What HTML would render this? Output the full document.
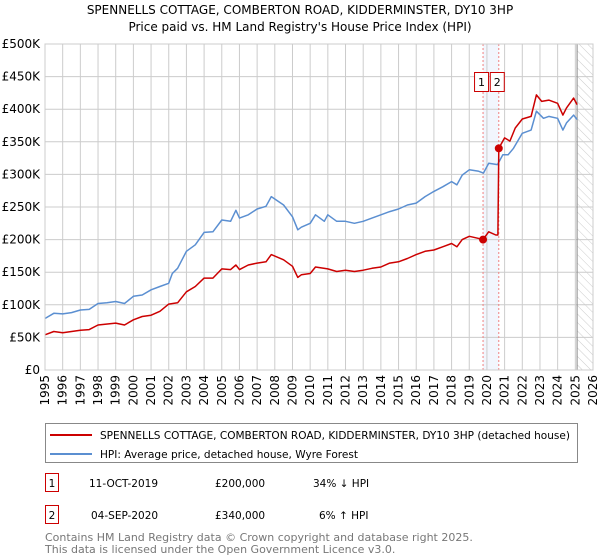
<!DOCTYPE html>
<html><head><meta charset="utf-8"><style>
body{margin:0;background:#fff;font-family:"Liberation Sans","DejaVu Sans",sans-serif;}
#wrap{position:relative;width:600px;height:560px;overflow:hidden}
</style></head><body>
<div id="wrap">
<svg id="chart" width="600" height="560" font-family="'DejaVu Sans','Liberation Sans',sans-serif">
<defs><pattern id="hatch" width="6" height="6" patternUnits="userSpaceOnUse" patternTransform="rotate(-45)"><line x1="0" y1="0" x2="0" y2="6" stroke="#ccc" stroke-width="1"/></pattern></defs>
<text x="300" y="14" text-anchor="middle" font-size="12">SPENNELLS COTTAGE, COMBERTON ROAD, KIDDERMINSTER, DY10 3HP</text>
<text x="300" y="31" text-anchor="middle" font-size="12">Price paid vs. HM Land Registry's House Price Index (HPI)</text>
<g id="grid"></g><g id="marks"></g><g id="axes"></g>
</svg>
<svg style="position:absolute;left:0;top:0" width="600" height="560" font-family="'DejaVu Sans','Liberation Sans',sans-serif" font-size="10.5">
<g>
<rect x="45.5" y="423.5" width="532" height="39" fill="#fff" stroke="#888"/>
<line x1="50" y1="435" x2="92" y2="435" stroke="#cc0000" stroke-width="2"/>
<text x="100" y="439" textLength="470" lengthAdjust="spacingAndGlyphs">SPENNELLS COTTAGE, COMBERTON ROAD, KIDDERMINSTER, DY10 3HP (detached house)</text>
<line x1="50" y1="454" x2="92" y2="454" stroke="#5b8fd1" stroke-width="2"/>
<text x="100" y="458" textLength="258" lengthAdjust="spacingAndGlyphs">HPI: Average price, detached house, Wyre Forest</text>
</g>
<g font-size="10.5">
<rect x="45.5" y="473.5" width="13" height="18" fill="#fff" stroke="#cc0000"/><text x="52" y="487" text-anchor="middle">1</text>
<text x="89" y="487">11-OCT-2019</text><text x="215" y="487">£200,000</text><text x="313" y="487">34% ↓ HPI</text>
<rect x="45.5" y="505.5" width="13" height="18" fill="#fff" stroke="#cc0000"/><text x="52" y="519" text-anchor="middle">2</text>
<text x="91" y="519">04-SEP-2020</text><text x="215" y="519">£340,000</text><text x="319" y="519">6% ↑ HPI</text>
</g>
<g fill="#777" font-size="11">
<text x="45" y="541">Contains HM Land Registry data © Crown copyright and database right 2025.</text>
<text x="45" y="553">This data is licensed under the Open Government Licence v3.0.</text>
</g>
</svg>
</div>
<script>
const hpiYears=[1995,1995.5,1996,1996.5,1997,1997.5,1998,1998.5,1999,1999.5,2000,2000.5,2001,2001.5,2002,2002.2,2002.5,2003,2003.5,2004,2004.5,2005,2005.5,2005.8,2006,2006.5,2007,2007.5,2007.8,2008.5,2009,2009.3,2009.5,2010,2010.3,2010.8,2011,2011.5,2012,2012.5,2013,2013.5,2014,2014.5,2015,2015.5,2016,2016.5,2017,2017.5,2018,2018.3,2018.6,2019,2019.5,2019.8,2020.1,2020.6,2020.9,2021.2,2021.5,2022,2022.5,2022.8,2023.2,2023.5,2024,2024.3,2024.5,2024.9,2025.1];
const hpiValues=[79,87,86,88,92,93,102,103,105,102,113,115,123,128,133,148,156,182,192,211,212,230,228,245,233,238,247,251,266,253,235,215,219,225,238,228,238,228,228,225,228,233,238,243,247,253,256,266,274,281,289,284,299,307,305,302,317,315,330,330,340,363,368,397,386,389,386,368,379,391,384];
const priceYears=[1995,1995.5,1996,1997,1997.5,1998,1999,1999.5,2000,2000.5,2001,2001.5,2002,2002.5,2003,2003.5,2004,2004.5,2005,2005.5,2005.8,2006,2006.5,2007,2007.5,2007.8,2008.5,2009,2009.3,2009.5,2010,2010.3,2011,2011.5,2012,2012.5,2013,2013.5,2014,2014.5,2015,2015.5,2016,2016.5,2017,2017.5,2018,2018.3,2018.6,2019,2019.5,2019.78,2020.1,2020.5,2020.62,2020.67,2021,2021.3,2021.6,2022,2022.5,2022.8,2023.1,2023.5,2024,2024.3,2024.5,2024.9,2025.1];
const priceValues=[54,59,57,61,62,69,72,69,77,82,84,90,101,103,120,128,141,141,155,154,161,154,161,164,166,177,169,159,142,146,148,158,155,151,153,151,153,156,158,164,166,171,177,182,184,189,194,189,200,205,202,200,212,207,207,340,356,351,371,385,389,422,412,414,409,391,402,417,407];
const saleYears=[2019.78,2020.67];
const saleValues=[200,340];
const saleLabels=["1","2"];
const yTicks=[0,50,100,150,200,250,300,350,400,450,500];
const yTickLabels=["£0","£50K","£100K","£150K","£200K","£250K","£300K","£350K","£400K","£450K","£500K"];
const xTicks=[1995,1996,1997,1998,1999,2000,2001,2002,2003,2004,2005,2006,2007,2008,2009,2010,2011,2012,2013,2014,2015,2016,2017,2018,2019,2020,2021,2022,2023,2024,2025,2026];
const NS="http://www.w3.org/2000/svg";
const X0=45,X1=593,Y0=370,Y1=44;
const xs=y=>X0+(y-1995)/(2026-1995)*(X1-X0);
const ys=v=>Y0-v/500*(Y0-Y1);
function mk(tag,attrs,parent){const e=document.createElementNS(NS,tag);for(const k in attrs)e.setAttribute(k,attrs[k]);parent.appendChild(e);return e;}
const grid=document.getElementById('grid'),marks=document.getElementById('marks'),axes=document.getElementById('axes');
let h=mk('rect',{x:xs(2025.1),y:Y1,width:X1-xs(2025.1),height:Y0-Y1,fill:'url(#hatch)'},grid);


let band=mk('rect',{x:xs(saleYears[0]),y:Y1,width:xs(saleYears[1])-xs(saleYears[0]),height:Y0-Y1,fill:'#f2f6fd'},grid);


yTicks.forEach((v,i)=>{
  let l=mk('line',{x1:X0,x2:X1,y1:ys(v),y2:ys(v),stroke:'#ccc'},grid);
  
  
  let t=mk('text',{x:40,y:ys(v)+4,'text-anchor':'end','font-size':12},axes);
  t.textContent=yTickLabels[i];
  
  
});
xTicks.forEach(y=>{
  let l=mk('line',{x1:xs(y),x2:xs(y),y1:Y1,y2:Y0,stroke:'#ccc'},grid);
  
  
  let t=mk('text',{x:0,y:0,'text-anchor':'end','font-size':12,transform:`translate(${xs(y)+4},${Y0+5}) rotate(-90)`},axes);
  t.textContent=y;
  
  
});
let vl=mk('line',{x1:xs(2025.1),x2:xs(2025.1),y1:Y1,y2:Y0,stroke:'#888'},grid);


saleYears.forEach((y,i)=>{
  let l=mk('line',{x1:xs(y),x2:xs(y),y1:Y1,y2:Y0,stroke:'#f08080','stroke-dasharray':'2,2'},marks);
  
  
  let r=mk('rect',{x:xs(y)-9+0.5,y:72.5,width:14,height:19,fill:'#fff',stroke:'#cc0000'},marks);
  
  
  let t=mk('text',{x:+r.getAttribute('x')+7,y:86,'text-anchor':'middle','font-size':11},marks);
  t.textContent=saleLabels[i];
  
  
});
function line(xv,yv,color,name){
  let p=mk('polyline',{points:xv.map((x,i)=>xs(x).toFixed(1)+','+ys(yv[i]).toFixed(1)).join(' '),fill:'none',stroke:color,'stroke-width':1.5,'stroke-linejoin':'round'},marks);
  
  
}
line(hpiYears,hpiValues,'#5b8fd1','hpi-line');
line(priceYears,priceValues,'#cc0000','price-line');
saleYears.forEach((y,i)=>{
  let c=mk('circle',{cx:xs(y),cy:ys(saleValues[i]),r:4,fill:'#cc0000'},marks);
  
  
});
let b=mk('rect',{x:X0,y:Y1,width:X1-X0,height:Y0-Y1,fill:'none',stroke:'#ccc'},axes);


</script>
</body></html>
